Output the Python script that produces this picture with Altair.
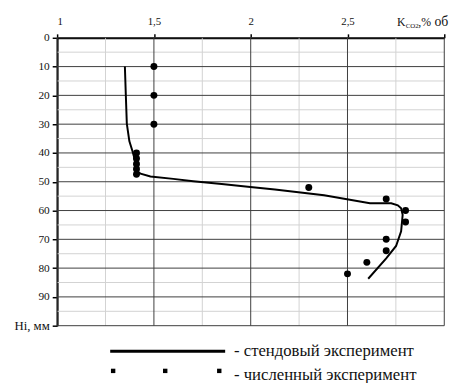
import altair as alt
import pandas as pd

# --- data ---
curve_k = [1.350, 1.355, 1.360, 1.373, 1.389, 1.400, 1.408, 1.431, 1.482, 1.600, 1.703,
           1.850, 1.998, 2.125, 2.379, 2.616, 2.726, 2.760, 2.777, 2.785, 2.777, 2.751,
           2.700, 2.607]
curve_h = [10.0, 20.1, 29.8, 35.9, 39.3, 42.0, 46.0, 47.2, 48.2, 49.0, 49.8,
           50.8, 51.8, 52.7, 54.7, 57.5, 57.5, 58.2, 59.2, 61.5, 67.2, 72.3,
           76.6, 83.7]

sim_k = [1.50, 1.50, 1.50, 1.41, 1.41, 1.41, 1.41, 1.41, 2.30, 2.70, 2.80, 2.80, 2.70, 2.70, 2.60, 2.50]
sim_h = [10, 20, 30, 40, 41.9, 43.8, 45.6, 47.4, 52, 56, 60, 64, 70, 74, 78, 82]

x_major = [1, 1.5, 2, 2.5, 3]
x_minor = [1.25, 1.75, 2.25, 2.75]
y_major = [0, 10, 20, 30, 40, 50, 60, 70, 80, 90, 100]
y_minor = [5, 15, 25, 35, 45, 55, 65, 75, 85, 95]

legend_labels = ["- стендовый эксперимент", "- численный эксперимент"]

curve_df = pd.DataFrame({"k": curve_k, "h": curve_h, "i": list(range(len(curve_k)))})
sim_df = pd.DataFrame({"k": sim_k, "h": sim_h})
one = pd.DataFrame({"a": [0]})

FONT = "Liberation Serif"
MAJOR = "#3c3c3c"
MINOR = "#d2d2d2"
TXT = "#111"

x_scale = alt.Scale(domain=[1, 3], nice=False, zero=False)
y_scale = alt.Scale(domain=[0, 100], reverse=True, nice=False, zero=False)

x_axis = alt.Axis(
    orient="top", values=x_major, title=None, labelOverlap=False, grid=False,
    labelExpr="datum.value < 3 ? replace(format(datum.value, '~g'), '.', ',') : ''",
    tickSize=4, tickColor="#000", tickWidth=1.5,
    domainColor="#000", domainWidth=2,
    labelPadding=8, labelFont=FONT, labelFontSize=11, labelColor=TXT,
)
y_axis = alt.Axis(
    orient="left", values=y_major, title=None, labelOverlap=False, grid=False,
    labelExpr="datum.value == 100 ? 'Hi, мм' : datum.label",
    labelFontSize={"condition": {"test": "datum.value == 100", "value": 13}, "value": 11.5},
    tickSize=5, tickColor="#000", tickWidth=1.5,
    domainColor="#000", domainWidth=2,
    labelPadding=3, labelFont=FONT, labelColor=TXT,
)

def vgrid(vals, color):
    return alt.Chart(pd.DataFrame({"k": vals})).mark_rule(color=color, strokeWidth=1).encode(
        x=alt.X("k:Q", scale=x_scale, axis=x_axis))

def hgrid(vals, color):
    return alt.Chart(pd.DataFrame({"h": vals})).mark_rule(color=color, strokeWidth=1).encode(
        y=alt.Y("h:Q", scale=y_scale, axis=y_axis))

grid_layers = [vgrid(x_minor, MINOR), hgrid(y_minor, MINOR), vgrid(x_major, MAJOR), hgrid(y_major, MAJOR)]

line = alt.Chart(curve_df).mark_line(color="black", strokeWidth=2).encode(
    x=alt.X("k:Q", scale=x_scale, axis=x_axis),
    y=alt.Y("h:Q", scale=y_scale, axis=y_axis),
    order="i:Q",
)
pts = alt.Chart(sim_df).mark_circle(color="black", size=50, opacity=1).encode(
    x=alt.X("k:Q", scale=x_scale, axis=x_axis),
    y=alt.Y("h:Q", scale=y_scale, axis=y_axis),
)

def txt(s, xv, yv, size, baseline="alphabetic"):
    return alt.Chart(one).mark_text(text=s, font=FONT, fontSize=size, align="left",
                                    baseline=baseline, color=TXT).encode(
        x=alt.value(xv), y=alt.value(yv))

# axis title "K_CO2,% об"
title_layers = [
    txt("K", 346, -11.5, 12),
    txt("CO2", 354.8, -10, 7),
    txt(",%", 367.5, -11.5, 12),
    txt("об", 384, -11.5, 14),
]

# manual legend
leg_line = alt.Chart(one).mark_rule(color="black", strokeWidth=3).encode(
    x=alt.value(54), x2=alt.value(171), y=alt.value(319))
leg_sq = [
    alt.Chart(one).mark_square(color="black", size=20, opacity=1).encode(x=alt.value(xv), y=alt.value(339))
    for xv in (57, 110, 165)
]
leg_txt = [
    txt(legend_labels[0], 180, 319, 17, "middle"),
    txt(legend_labels[1], 180, 343, 17, "middle"),
]

chart = alt.layer(*grid_layers, line, pts, *title_layers, leg_line, *leg_sq, *leg_txt).properties(
    width=394, height=293,
    autosize=alt.AutoSizeParams(type="none"),
    padding={"left": 50, "top": 27, "right": 16, "bottom": 55},
    background="white",
).configure_view(stroke=None)

chart.save("out.html", embed_options={"renderer": "svg", "actions": False})
